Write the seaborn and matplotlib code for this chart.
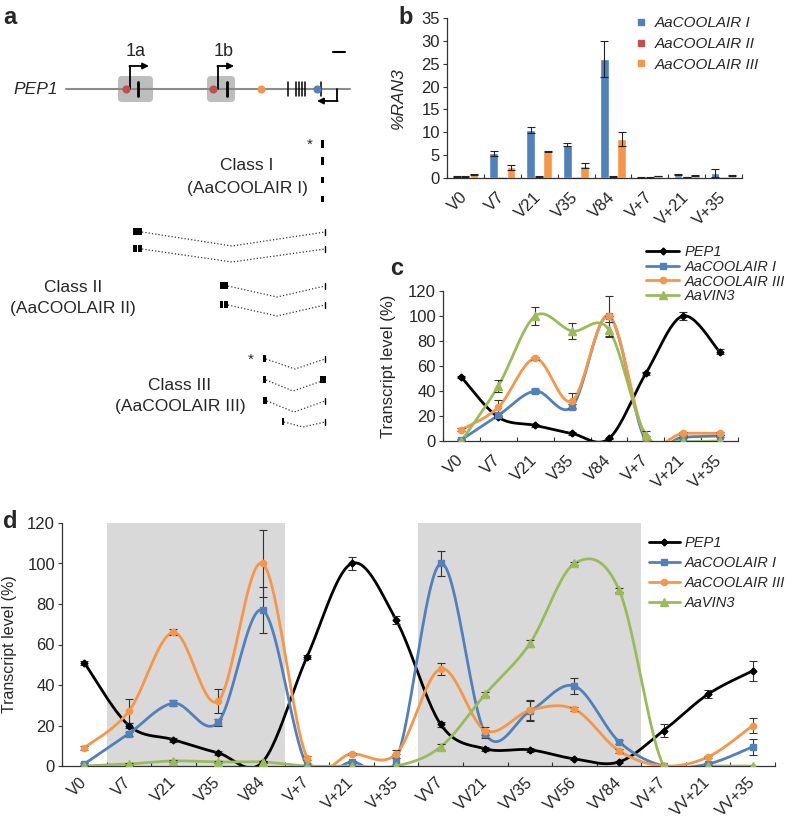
import numpy as np
import pandas as pd
import seaborn as sns
import matplotlib.pyplot as plt
import matplotlib.transforms as mtransforms
from matplotlib.lines import Line2D
from matplotlib.patches import Rectangle, FancyBboxPatch

# ---------------- DATA ----------------
# panel b : %RAN3
cats_b = ["V0", "V7", "V21", "V35", "V84", "V+7", "V+21", "V+35"]
coolair1_b = [0.3, 5.4, 10.5, 7.3, 26.0, 0.1, 0.7, 1.1]
coolair2_b = [0.3, 0.05, 0.3, 0.05, 0.4, 0.1, 0.2, 0.05]
coolair3_b = [0.8, 2.3, 5.7, 2.7, 8.5, 0.4, 0.5, 0.5]
coolair1_b_err = [0.1, 0.5, 0.6, 0.4, 4.0, 0.05, 0.1, 0.8]
coolair2_b_err = [0.05, 0.02, 0.05, 0.02, 0.1, 0.02, 0.05, 0.02]
coolair3_b_err = [0.1, 0.6, 0.1, 0.6, 1.6, 0.05, 0.05, 0.1]

# panel c : transcript level (%)
cats_c = ["V0", "V7", "V21", "V35", "V84", "V+7", "V+21", "V+35"]
pep1_c = [51, 19, 12.5, 6, 2, 54, 100, 71.5]
pep1_c_err = [1, 1, 1, 1, 0.5, 1, 3, 2]
coolair1_c = [1, 20.5, 40, 27.5, 100, 0, 3, 4]
coolair1_c_err = [0.5, 2, 1.5, 2, 0, 0, 0.5, 0.5]
coolair3_c = [9, 27, 66, 32, 100, 3, 6, 6]
coolair3_c_err = [1, 6, 1.5, 6, 16, 1, 1, 1]
vin3_c = [0, 44, 100, 88, 89, 5, 0, 0]
vin3_c_err = [0, 5, 7, 6.5, 6, 3, 0, 0]

# panel d : transcript level (%), two vernalizations
cats_d = ["V0", "V7", "V21", "V35", "V84", "V+7", "V+21", "V+35",
          "VV7", "VV21", "VV35", "VV56", "VV84", "VV+7", "VV+21", "VV+35"]
pep1_d = [51, 20, 13, 6.5, 2, 54, 100, 72, 20.5, 8.5, 8, 3.5, 2, 17.5, 35.5, 47]
pep1_d_err = [1, 1, 1, 1, 0.5, 1, 3, 2, 1, 1, 1, 0.5, 0.5, 3, 2, 5]
coolair1_d = [1, 16, 31, 21.5, 77, 0, 2, 3, 100, 16, 27, 39.5, 12, 0, 1, 9.5]
coolair1_d_err = [0.5, 1, 1.5, 1.5, 11.5, 0, 0.5, 3, 6, 2, 5, 4, 1, 0, 0.5, 4]
coolair3_d = [9, 27, 66, 32, 100, 4, 6, 6, 48, 17.5, 27.5, 28, 7.5, 0, 4.5, 20]
coolair3_d_err = [1, 6, 1.5, 6, 16.5, 1, 0.5, 2, 3, 2, 5, 1, 1, 0, 0.5, 3.5]
vin3_d = [0, 1, 2.5, 2, 2, 0, 0, 0, 9.5, 35.5, 60.5, 100, 87, 0, 0, 0]
vin3_d_err = [0, 0.3, 0.3, 0.3, 0.3, 0, 0, 0, 1.5, 1, 1.5, 0.5, 1, 0, 0, 0]
cold_periods = [(0.5, 4.5), (7.5, 12.5)]

# panel a : gene diagram (pixel units of the panel)
exon_bars = [138, 227, 288, 296, 299, 302, 305, 321]
class1_segs = [(140, 148), (157, 165), (177, 183), (196, 202)]
class2_rows = [  # box x0, box x1, y, dip x, dip y
    (133, 142, 232, 232, 246), (133, 142, 249, 232, 262),
    (220, 228, 286, 277, 297), (220, 228, 305, 277, 316)]
class3_rows = [
    (263, 266, 359, 295, 369), (263, 266, 380, 293, 391),
    (263, 267, 401, 294, 412), (282, 284, 422, 303, 427)]

BLUE = "#4f81bd"
RED = "#c0504d"
ORANGE = "#f79646"
GREEN = "#9bbb59"
GRAY_BAND = "#d9d9d9"

sns.set_style("white")
plt.rcParams['font.family'] = ['Liberation Sans', 'DejaVu Sans']
plt.rcParams['font.size'] = 12
plt.rcParams['axes.edgecolor'] = '#333333'
plt.rcParams['axes.linewidth'] = 0.9

W, H = 788, 822
fig = plt.figure(figsize=(W / 100, H / 100), dpi=100)


def px_axes(x0, y0, x1, y1):
    return fig.add_axes([x0 / W, 1 - y1 / H, (x1 - x0) / W, (y1 - y0) / H])


def smooth(y, n=25):
    # excel style smoothed line (bezier / catmull-rom)
    y = np.asarray(y, float)
    p = np.column_stack([np.arange(len(y), dtype=float), y])
    pp = np.vstack([p[0], p, p[-1]])
    t = np.linspace(0, 1, n)[1:, None]
    out = [p[:1]]
    for i in range(len(p) - 1):
        p0, p1, p2, p3 = pp[i], pp[i + 1], pp[i + 2], pp[i + 3]
        c1 = p1 + (p2 - p0) / 6
        c2 = p2 - (p3 - p1) / 6
        out.append((1 - t) ** 3 * p1 + 3 * (1 - t) ** 2 * t * c1
                   + 3 * (1 - t) * t ** 2 * c2 + t ** 3 * p2)
    out = np.vstack(out)
    return out[:, 0], out[:, 1]


def style_cat_axis(ax, cats, ylim, yticks, fs=12, xfs=12, xpad=12):
    n = len(cats)
    ax.set_xlim(-0.5, n - 0.5)
    ax.set_ylim(*ylim)
    ax.set_yticks(yticks)
    ax.set_xticks(range(n))
    ax.set_xticklabels(cats, rotation=45, ha='right', va='center',
                       rotation_mode='anchor', fontsize=xfs)
    # nudge rotated labels right/up like the original
    shift = mtransforms.ScaledTranslation(4 / 100, 4 / 100,
                                          fig.dpi_scale_trans)
    for lab in ax.get_xticklabels():
        lab.set_transform(lab.get_transform() + shift)
    ax.set_xticks(np.arange(-0.5, n), minor=True)
    ax.tick_params(axis='x', which='major', length=0, pad=xpad)
    ax.tick_params(axis='x', which='minor', direction='in', length=3,
                   width=0.8, bottom=True, color='#333333')
    ax.tick_params(axis='y', direction='out', length=3, width=0.8,
                   left=True, labelsize=fs, color='#333333', pad=2)
    ax.set_xlabel("")
    sns.despine(ax=ax)


series_styles = [  # name, color, marker, markersize
    ("PEP1", "black", "D", 3.5),
    ("AaCOOLAIR I", BLUE, "s", 4.5),
    ("AaCOOLAIR III", ORANGE, "o", 4.5),
    ("AaVIN3", GREEN, "^", 5.5),
]


def draw_lines(ax, values, errors):
    for (name, col, mk, ms), yv, ye in zip(series_styles, values, errors):
        xs, ys = smooth(yv)
        sns.lineplot(x=xs, y=ys, sort=False, estimator=None, color=col,
                     lw=2, ax=ax, zorder=3)
        ax.errorbar(range(len(yv)), yv, yerr=ye, fmt=mk, color=col, ms=ms,
                    ecolor='#333333', elinewidth=0.8, capsize=3,
                    capthick=0.8, zorder=4)


def line_handles():
    return [Line2D([], [], color=c, marker=m, ms=ms, lw=2)
            for _, c, m, ms in series_styles]


# ---------------- panel a ----------------
axa = px_axes(0, 0, 400, 440)
axa.set_xlim(0, 400)
axa.set_ylim(440, 0)
axa.axis('off')
axa.plot([66, 350], [89, 89], color='#8c8c8c', lw=1.5, zorder=1)
for bx0, bx1 in [(118, 153), (207, 235)]:
    axa.add_patch(FancyBboxPatch((bx0, 76), bx1 - bx0, 26,
                                 boxstyle="round,pad=0,rounding_size=4",
                                 fc='#bdbdbd', ec='none', zorder=0))
for i, xb in enumerate(exon_bars):
    axa.plot([xb, xb], [82, 96], color='black',
             lw=2 if i < 2 else 1.1, zorder=2)
axa.scatter([126, 213], [89, 89], s=34, color=RED, zorder=3, lw=0)
axa.scatter([261], [89], s=34, color=ORANGE, zorder=3, lw=0)
axa.scatter([317], [89], s=34, color=BLUE, zorder=3, lw=0)
for xs0, xe, lab in [(130, 149, "1a"), (218, 234, "1b")]:
    axa.plot([xs0, xs0], [89, 66], color='black', lw=1.3)
    axa.annotate("", xy=(xe, 66), xytext=(xs0 - 0.6, 66),
                 arrowprops=dict(arrowstyle='-|>', color='black', lw=1.3,
                                 mutation_scale=9, shrinkA=0, shrinkB=0))
    axa.text(xs0 + 6, 52, lab, ha='center', va='center', fontsize=13)
axa.plot([337, 337], [89, 101], color='black', lw=1.3)
axa.annotate("", xy=(317, 101), xytext=(337.6, 101),
             arrowprops=dict(arrowstyle='-|>', color='black', lw=1.3,
                             mutation_scale=9, shrinkA=0, shrinkB=0))
axa.plot([333, 345], [52, 52], color='black', lw=1.5)
axa.text(58, 89, "PEP1", ha='right', va='center', fontsize=12.5,
         style='italic')

# class I
for y0, y1 in class1_segs:
    axa.add_patch(Rectangle((320.5, y0), 3, y1 - y0, color='black', lw=0))
axa.text(310, 145, "*", ha='center', va='center', fontsize=11)
axa.text(247, 165, "Class I", ha='center', va='center', fontsize=12.5)
axa.text(247, 188, "(AaCOOLAIR I)", ha='center', va='center', fontsize=12.5)


def transcript(x0, x1, y, dx, dy, end_box=False, split=False):
    if split:
        axa.add_patch(Rectangle((x0, y - 3.5), (x1 - x0) * 0.4, 7,
                                color='black', lw=0))
        axa.add_patch(Rectangle((x0 + (x1 - x0) * 0.55, y - 3.5),
                                (x1 - x0) * 0.45, 7, color='black', lw=0))
    else:
        axa.add_patch(Rectangle((x0, y - 3.5), x1 - x0, 7, color='black',
                                lw=0))
    axa.plot([x1, dx, 325], [y, dy, y], color='#333333', lw=0.9, ls=':')
    if end_box:
        axa.add_patch(Rectangle((319.5, y - 3.5), 6, 7, color='black', lw=0))
    else:
        axa.plot([325, 325], [y - 3, y + 3], color='black', lw=1)


for k, (x0, x1, y, dx, dy) in enumerate(class2_rows):
    transcript(x0, x1, y, dx, dy, split=(k % 2 == 1))
for k, (x0, x1, y, dx, dy) in enumerate(class3_rows):
    transcript(x0, x1, y, dx, dy, end_box=(k == 1))
axa.text(73, 287, "Class II", ha='center', va='center', fontsize=12.5)
axa.text(73, 308, "(AaCOOLAIR II)", ha='center', va='center', fontsize=12.5)
axa.text(251, 360, "*", ha='center', va='center', fontsize=11)
axa.text(180, 385, "Class III", ha='center', va='center', fontsize=12.5)
axa.text(180, 407, "(AaCOOLAIR III)", ha='center', va='center',
         fontsize=12.5)

# ---------------- panel b ----------------
axb = px_axes(447, 18, 742, 178)
names_b = ["AaCOOLAIR I", "AaCOOLAIR II", "AaCOOLAIR III"]
df_b = pd.DataFrame({
    "cat": cats_b * 3,
    "series": np.repeat(names_b, len(cats_b)),
    "value": coolair1_b + coolair2_b + coolair3_b,
})
sns.barplot(data=df_b, x="cat", y="value", hue="series", hue_order=names_b,
            palette=[BLUE, RED, ORANGE], width=0.7, saturation=1,
            errorbar=None, legend=False, ax=axb)
for j, (vals, errs) in enumerate(zip([coolair1_b, coolair2_b, coolair3_b],
                                     [coolair1_b_err, coolair2_b_err,
                                      coolair3_b_err])):
    xpos = np.arange(len(vals)) + (j - 1) * 0.7 / 3
    axb.errorbar(xpos, vals, yerr=errs, fmt='none', ecolor='#222222',
                 elinewidth=0.8, capsize=3, capthick=0.8, zorder=4)
style_cat_axis(axb, cats_b, (0, 35), range(0, 36, 5))
axb.set_ylabel("%RAN3", style='italic', fontsize=12.5)
axb.yaxis.set_label_coords(-0.14, 0.5)
hb = [Line2D([], [], color=c, marker='s', ms=5, ls='none')
      for c in [BLUE, RED, ORANGE]]
axb.legend(hb, names_b, loc='upper left', bbox_to_anchor=(0.61, 1.06),
           frameon=False, prop={'style': 'italic', 'size': 11},
           handlelength=0.8, handletextpad=0.5, labelspacing=0.45,
           borderpad=0)

# ---------------- panel c ----------------
axc = px_axes(443, 291, 738, 441)
draw_lines(axc, [pep1_c, coolair1_c, coolair3_c, vin3_c],
           [pep1_c_err, coolair1_c_err, coolair3_c_err, vin3_c_err])
style_cat_axis(axc, cats_c, (0, 120), range(0, 121, 20))
axc.set_ylabel("Transcript level (%)", fontsize=12)
axc.yaxis.set_label_coords(-0.16, 0.5)
axc.legend(line_handles(), [s[0] for s in series_styles], loc='upper left',
           bbox_to_anchor=(0.665, 1.355), frameon=False,
           prop={'style': 'italic', 'size': 10.5}, handlelength=2.2,
           handletextpad=0.4, labelspacing=0.05, borderpad=0)

# ---------------- panel d ----------------
axd = px_axes(62, 523, 775, 766)
for a0, a1 in cold_periods:
    axd.axvspan(a0, a1, color=GRAY_BAND, lw=0, zorder=0)
draw_lines(axd, [pep1_d, coolair1_d, coolair3_d, vin3_d],
           [pep1_d_err, coolair1_d_err, coolair3_d_err, vin3_d_err])
style_cat_axis(axd, cats_d, (0, 120), range(0, 121, 20), xfs=11.5, xpad=10)
axd.set_ylabel("Transcript level (%)", fontsize=11.5)
axd.yaxis.set_label_coords(-0.063, 0.5)
axd.legend(line_handles(), [s[0] for s in series_styles], loc='upper left',
           bbox_to_anchor=(0.813, 0.975), frameon=False,
           prop={'style': 'italic', 'size': 10.5}, handlelength=2.1,
           handletextpad=0.35, labelspacing=0.4, borderpad=0)

# panel letters
for lab, x, y in [("a", 10, 17), ("b", 406, 17), ("c", 397, 268),
                  ("d", 10, 522)]:
    fig.text(x / W, 1 - y / H, lab, fontsize=17, fontweight='bold',
             ha='center', va='center')

fig.savefig("out.png", dpi=100)
